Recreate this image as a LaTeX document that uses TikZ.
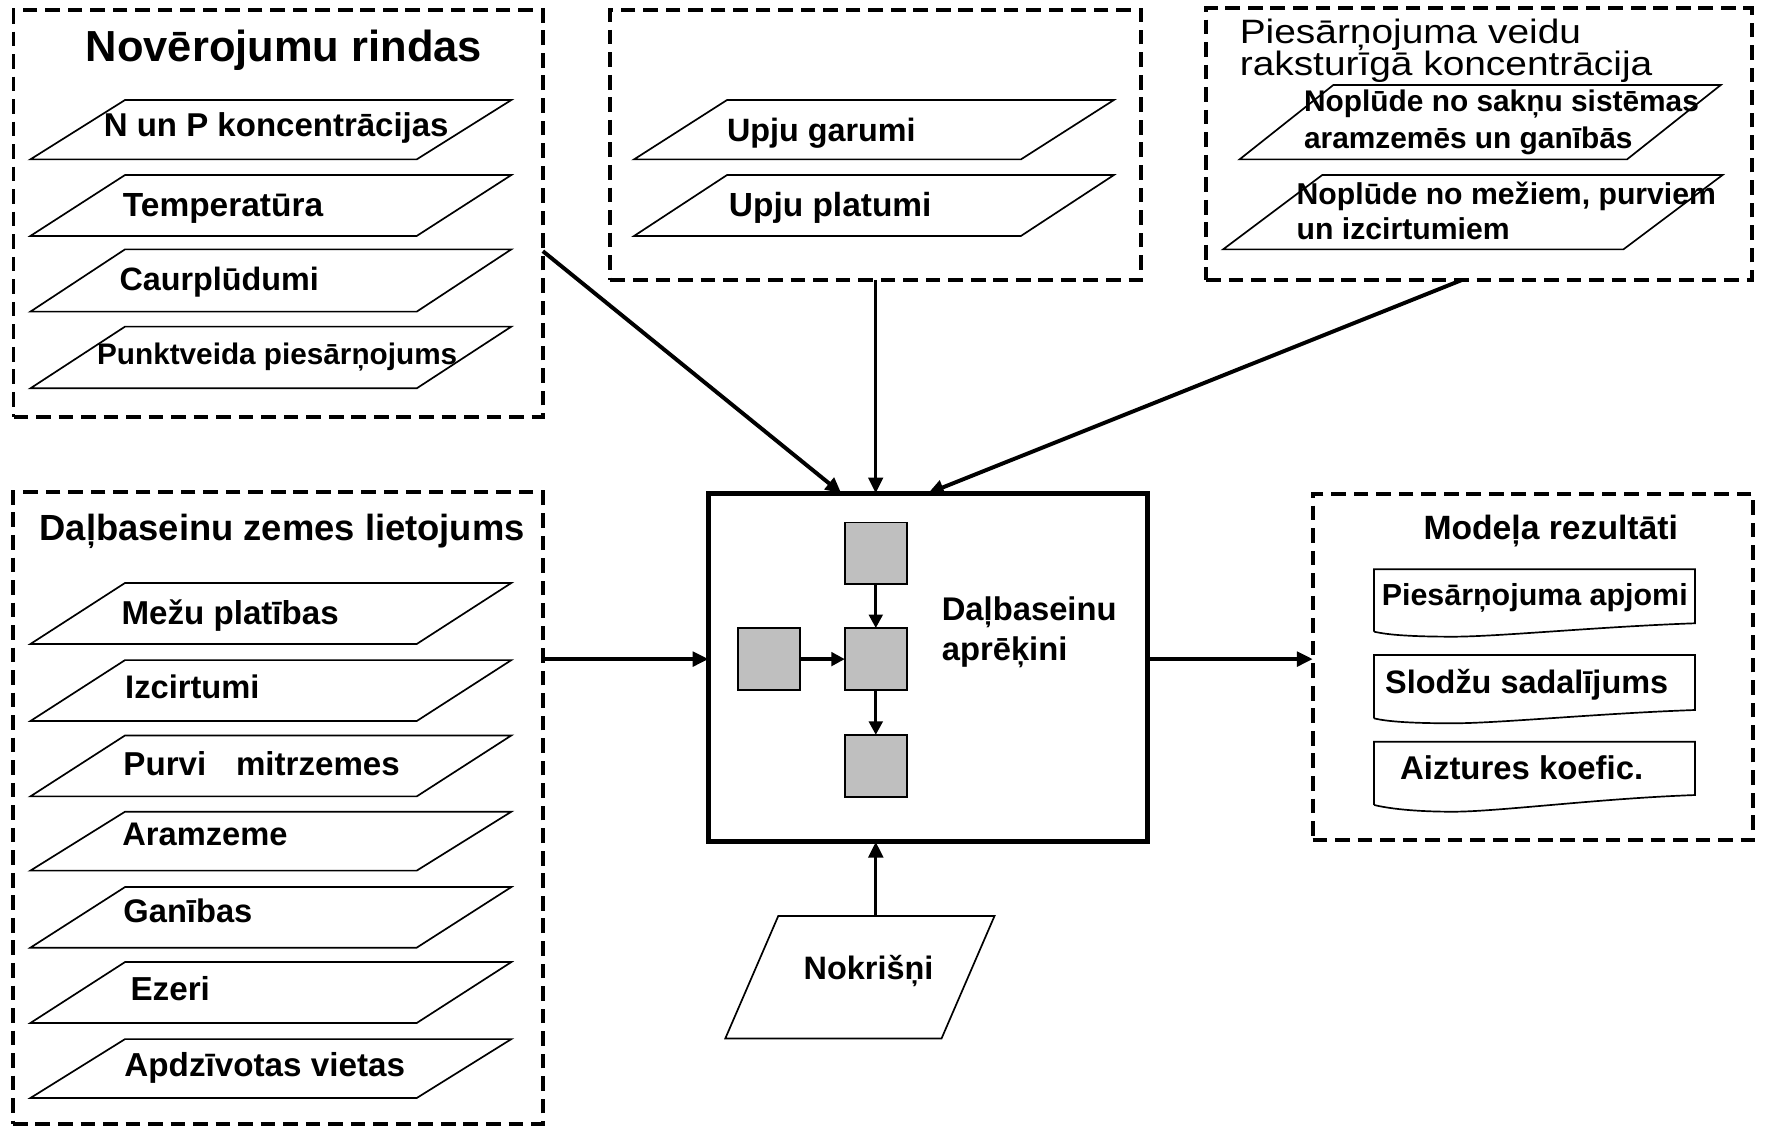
\documentclass[tikz,border=0pt]{standalone}
\usepackage{fontspec}
\setmainfont{Liberation Sans}
\newfontfamily\widesans[FakeStretch=1.15]{Liberation Sans}
\usetikzlibrary{arrows.meta}
\newcommand\fsz[1]{\fontsize{#1pt}{#1pt}\selectfont}
\newcommand\twol[3]{\vtop{\baselineskip=#1pt\lineskiplimit=-1000pt\hbox{#2}\hbox{#3}}}
\newcommand\plg[5]{\draw[pline] (#1,#2) -- ({#1+#4},#2) -- ({#1+#4+#5},#3) -- ({#1+#5},#3) -- cycle;}
\newcommand\docu[4]{\draw[pline] (1220,#3) -- (1220,#1) -- (1505,#1) -- (1505,#2) .. controls (1420,{#2+3}) and (1330,#4) .. (1290,#4) .. controls (1255,#4) and (1232,{#3+3}) .. (1220,#3);}
\begin{document}
\begin{tikzpicture}[x=1pt,y={(0pt,-1pt)},
  dbox/.style={draw, line width=3.5pt, dash pattern=on 13pt off 7pt, rectangle, inner sep=0pt, outer sep=0pt, anchor=north west},
  pline/.style={line width=1.5pt, line join=miter},
  lbl/.style={inner sep=0pt, anchor=base west, font=\bfseries},
  arr/.style={-{Triangle[length=14pt,width=13pt]}, line width=3pt},
  iarr/.style={-{Triangle[length=12pt,width=12pt]}, line width=3pt},
  sq/.style={draw, fill=gray!50, line width=1.5pt, minimum size=55pt, inner sep=0pt, outer sep=0pt}]
\fill[white] (0,0) rectangle (1568,1000);
\useasboundingbox (0,0) rectangle (1568,1000);

% dashed group boxes
\node[dbox, minimum width=470pt, minimum height=361pt] (obs) at (12,9) {};
\node[dbox, minimum width=471pt, minimum height=240pt] (riv) at (542,8.5) {};
\node[dbox, minimum width=484.5pt, minimum height=241pt] (conc) at (1071,7.5) {};
\node[dbox, minimum width=470.5pt, minimum height=561pt] (land) at (11.5,437) {};
\node[dbox, minimum width=391pt, minimum height=307.5pt] (res) at (1165.5,438.5) {};

% central box
\node[draw, line width=4.5pt, rectangle, minimum width=390pt, minimum height=309.5pt, anchor=north west, inner sep=0pt, outer sep=0pt] (calc) at (629,438) {};
\node[sq] (s1) at (777.6,491.3) {};
\node[sq] (s2) at (777.6,585.2) {};
\node[sq] (s3) at (683,585.2) {};
\node[sq] (s4) at (777.6,680) {};
\draw[iarr] (s1) -- (s2);
\draw[iarr] (s3) -- (s2);
\draw[iarr] (s2) -- (s4);
\node[lbl, font=\bfseries\fsz{29.1}] (ctext) at (836,550.5) {\twol{35.5}{Daļbaseinu}{aprēķini}};

% Noverojumu rindas
\node[lbl, font=\bfseries\fsz{38.6}] (tobs) at (76,54.7) {Novērojumu rindas};
\plg{27}{141.5}{88.8}{343}{84}
\plg{27}{209.5}{155.4}{343}{84}
\plg{27}{276.7}{221.4}{343}{84}
\plg{27}{344.8}{290}{343}{84}
\node[lbl, font=\bfseries\fsz{29.3}] (o1) at (92,121) {N un P koncentrācijas};
\node[lbl, font=\bfseries\fsz{29.7}] (o2) at (109,192) {Temperatūra};
\node[lbl, font=\bfseries\fsz{28.7}] (o3) at (106,257.5) {Caurplūdumi};
\node[lbl, font=\bfseries\fsz{26.4}] (o4) at (86,324) {Punktveida piesārņojums};

% Upju
\plg{563}{141.5}{88.8}{343.5}{82.5}
\plg{563}{209.5}{155.4}{343.5}{82.5}
\node[lbl, font=\bfseries\fsz{28.7}] (r1) at (645.3,125.8) {Upju garumi};
\node[lbl, font=\bfseries\fsz{29.7}] (r2) at (647,192.4) {Upju platumi};

% Piesarnojuma veidu
\node[lbl, font=\widesans\fsz{30}] (tconc) at (1100.6,38.5) {\twol{28.1}{Piesārņojuma veidu}{raksturīgā koncentrācija}};
\plg{1100.6}{141.5}{75.5}{344}{83.2}
\plg{1086}{221.4}{155.4}{355.4}{88}
\node[lbl, font=\bfseries\fsz{26.5}] (c1) at (1157.7,99.1) {\twol{32.6}{Noplūde no sakņu sistēmas}{aramzemēs un ganībās}};
\node[lbl, font=\bfseries\fsz{26.8}] (c2) at (1151.1,182) {\twol{31}{Noplūde no mežiem, purviem}{un izcirtumiem}};

% Dalbaseinu zemes lietojums
\node[lbl, font=\bfseries\fsz{32.3}] (tland) at (34.9,480.3) {Daļbaseinu zemes lietojums};
\plg{27}{571.8}{517.6}{343}{84}
\plg{27}{640.2}{586.1}{343}{84}
\plg{27}{707.1}{653}{343}{84}
\plg{27}{773}{720.7}{343}{84}
\plg{27}{841.4}{787.6}{343}{84}
\plg{27}{908.3}{854.2}{343}{84}
\plg{27}{974.9}{922.6}{343}{84}
\node[lbl, font=\bfseries\fsz{29.4}] (l1) at (107.8,554.2) {Mežu platības};
\node[lbl, font=\bfseries\fsz{29}] (l2) at (111,620) {Izcirtumi};
\node[lbl, font=\bfseries\fsz{29.4}] (l3) at (109.4,688.8) {Purvi\hspace{0.9em}mitrzemes};
\node[lbl, font=\bfseries\fsz{29}] (l4) at (108.4,751) {Aramzeme};
\node[lbl, font=\bfseries\fsz{29}] (l5) at (109.4,819.4) {Ganības};
\node[lbl, font=\bfseries\fsz{29.5}] (l6) at (115.7,887.9) {Ezeri};
\node[lbl, font=\bfseries\fsz{29.5}] (l7) at (110.3,955.9) {Apdzīvotas vietas};

% Modela rezultati
\node[lbl, font=\bfseries\fsz{29.9}] (tres) at (1263.7,479.4) {Modeļa rezultāti};
\docu{505.5}{553.4}{560.8}{565.3}
\docu{581.6}{630.4}{637.8}{642.2}
\docu{658.5}{705.9}{714.7}{720.7}
\node[lbl, font=\bfseries\fsz{27}] (m1) at (1226.7,537.2) {Piesārņojuma apjomi};
\node[lbl, font=\bfseries\fsz{28.8}] (m2) at (1229.7,615.6) {Slodžu sadalījums};
\node[lbl, font=\bfseries\fsz{29.2}] (m3) at (1243,692.5) {Aiztures koefic.};

% Nokrisni
\plg{644}{922}{813.3}{192}{47}
\node[lbl, font=\bfseries\fsz{28.8}] (nk) at (713.3,870.1) {Nokrišņi};
\coordinate (nktop) at (777.6,813.3);

% connectors
\coordinate (a1) at ([yshift=-214pt]obs.north east);
\coordinate (b1) at ([xshift=118pt]calc.north west);
\draw[arr, line width=3.5pt] (a1) -- (b1);
\draw[arr, line width=2.6pt] (riv.south) -- (riv.south |- calc.north);
\draw[arr, line width=3.5pt] ([xshift=-15pt]conc.south) -- (calc.north);
\draw[arr] (land.east |- s2) -- (calc.west |- s2);
\draw[arr] (calc.east |- s2) -- (res.west |- s2);
\draw[arr] (nktop) -- (nktop |- calc.south);
\end{tikzpicture}
\end{document}
